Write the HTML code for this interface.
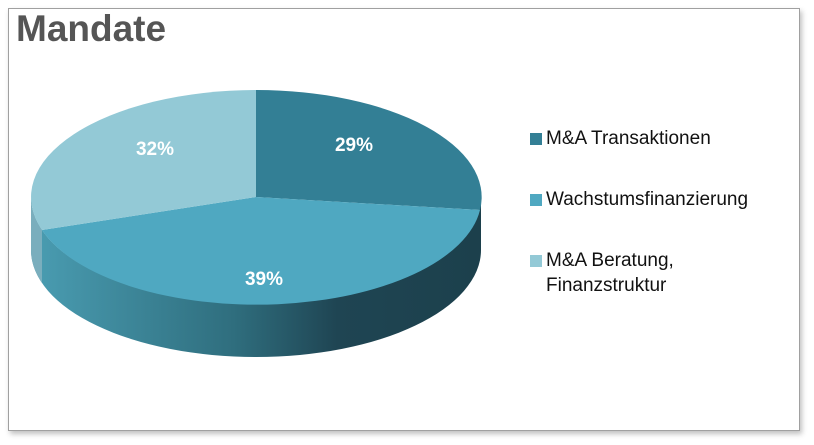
<!DOCTYPE html>
<html><head><meta charset="utf-8"><style>
html,body{margin:0;padding:0;background:#fff;}
body{width:814px;height:445px;position:relative;overflow:hidden;font-family:"Liberation Sans",sans-serif;}
.frame{position:absolute;left:8px;top:8px;width:790px;height:421px;border:1px solid #a0a0a0;box-shadow:2px 3px 5px rgba(0,0,0,0.25);background:#fff;}
.title{position:absolute;left:16px;top:8px;font-size:37px;font-weight:bold;color:#555;}
.leg{position:absolute;left:530px;font-size:19px;color:#111;line-height:25px;}
.leg span{position:absolute;left:0;top:7px;width:12px;height:12px;}
.leg div{margin-left:16px;}
</style></head><body>
<div class="frame"></div>
<div class="title">Mandate</div>
<svg width="814" height="445" style="position:absolute;left:0;top:0">
<defs><linearGradient id="g" x1="31" x2="481" y1="0" y2="0" gradientUnits="userSpaceOnUse">
<stop offset="0" stop-color="#4a9db2"/><stop offset="0.45" stop-color="#2f6e7e"/><stop offset="0.68" stop-color="#1f4553"/><stop offset="1" stop-color="#1c404c"/></linearGradient></defs>
<path d="M481,197 A225,107 0 0 1 31,197 L31,250 A225,107 0 0 0 481,250 Z" fill="url(#g)"/>
<path d="M31,197 L31,250 A225,107 0 0 0 42,283 L42,230 A225,107 0 0 1 31,197 Z" fill="#7aaebd"/>
<path d="M256,197 L256,90 A225,107 0 0 1 480,210 Z" fill="#337f95"/>
<path d="M256,197 L480,210 A225,107 0 0 1 42,230 Z" fill="#4fa8c1"/>
<path d="M256,197 L42,230 A225,107 0 0 1 256,90 Z" fill="#93c9d6"/>
<g fill="#fff" font-family="Liberation Sans, sans-serif" font-weight="bold" font-size="19" text-anchor="middle">
<text x="155" y="155">32%</text><text x="354" y="151">29%</text><text x="264" y="285">39%</text></g>
</svg>
<div class="leg" style="top:126px"><span style="background:#337f95"></span><div>M&amp;A Transaktionen</div></div>
<div class="leg" style="top:187px"><span style="background:#4fa8c1"></span><div>Wachstumsfinanzierung</div></div>
<div class="leg" style="top:248px"><span style="background:#93c9d6"></span><div>M&amp;A Beratung,<br>Finanzstruktur</div></div>
</body></html>
